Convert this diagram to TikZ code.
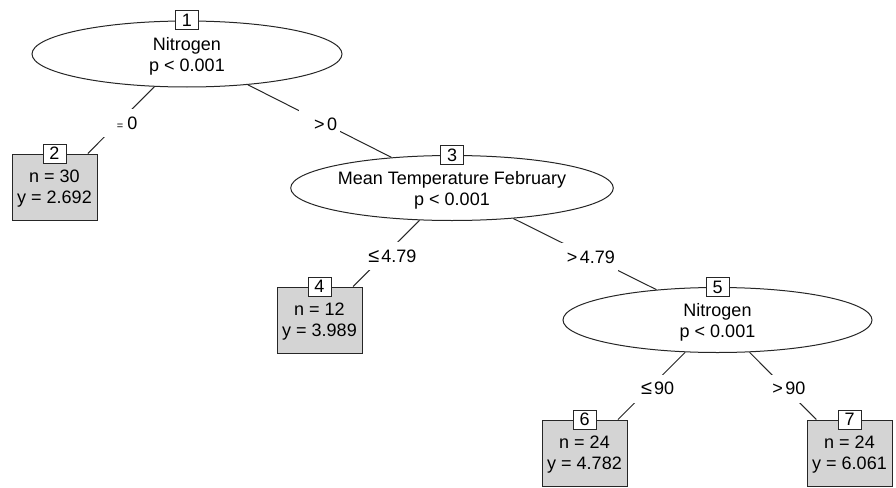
\documentclass[tikz,border=0pt]{standalone}
\usepackage{fontspec}
\setmainfont{Liberation Sans}
\usetikzlibrary{shapes.geometric}
\newcommand{\leqsym}{{\fontsize{20}{20}\selectfont ≤}}
\begin{document}
\begin{tikzpicture}[x=1pt,y=-1pt,
  every node/.style={font=\fontsize{18}{21}\selectfont},
  inner/.style={ellipse, draw=black!85, line width=1pt, fill=white, inner sep=0pt, align=center, text depth=0pt},
  leaf/.style={rectangle, draw=black!85, line width=1pt, fill=black!17, minimum width=85pt, minimum height=66pt, inner sep=0pt, align=center, text depth=0pt},
  idbox/.style={rectangle, draw=black!85, line width=1pt, fill=white, minimum width=23pt, minimum height=19pt, inner sep=0pt},
  conn/.style={draw=black!85, line width=1pt},
  elabel/.style={midway, fill=white, inner xsep=3pt, inner ysep=7.5pt, yshift=-2.8pt}
]
\useasboundingbox (0,0) rectangle (896,487);

% inner nodes
\node[inner, minimum width=310pt, minimum height=66pt] (n1) at (187,54) {Nitrogen\\p < 0.001};
\node[inner, minimum width=308pt, minimum height=65pt] (n3) at (452,188) {Mean Temperature February\\p < 0.001};
\node[inner, minimum width=309pt, minimum height=65pt] (n5) at (717.5,320) {Nitrogen\\p < 0.001};

% terminal nodes
\node[leaf] (n2) at (54.5,187) {n = 30\\y = 2.692};
\node[leaf] (n4) at (319.5,320) {n = 12\\y = 3.989};
\node[leaf] (n6) at (584.5,453) {n = 24\\y = 4.782};
\node[leaf] (n7) at (849.5,453) {n = 24\\y = 6.061};

% connectors with labels
\draw[conn] (n1) -- (n2) node[elabel] {\hspace*{12pt}{\fontsize{11}{11}\selectfont =}\hspace{4pt}0};
\draw[conn] (n1) -- (n3) node[elabel] {\hspace*{12pt}>\hspace{2.5pt}0};
\draw[conn] (n3) -- (n4) node[elabel] {\hspace*{12pt}\leqsym\hspace{2pt}4.79};
\draw[conn] (n3) -- (n5) node[elabel] {\hspace*{12pt}>\hspace{2.5pt}4.79};
\draw[conn] (n5) -- (n6) node[elabel] {\hspace*{12pt}\leqsym\hspace{2pt}90};
\draw[conn] (n5) -- (n7) node[elabel] {\hspace*{12pt}>\hspace{2.5pt}90};

% node numbers
\node[idbox] (b1) at (n1.north) {1};
\node[idbox] (b2) at (n2.north) {2};
\node[idbox] (b3) at (n3.north) {3};
\node[idbox] (b4) at (n4.north) {4};
\node[idbox] (b5) at (n5.north) {5};
\node[idbox] (b6) at (n6.north) {6};
\node[idbox] (b7) at (n7.north) {7};
\end{tikzpicture}
\end{document}
